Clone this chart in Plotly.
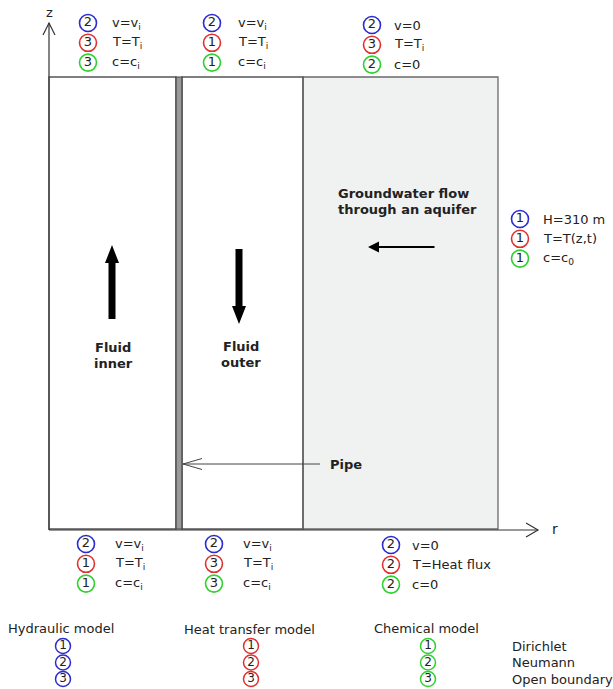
import plotly.graph_objects as go

# ---- boundary conditions (code, label) for each boundary of the model ----
sites = ["inner top", "outer top", "aquifer top", "aquifer side",
         "inner bottom", "outer bottom", "aquifer bottom"]
hydraulic_codes = [2, 2, 2, 1, 2, 2, 2]
hydraulic_labels = ["v=v<sub>i</sub>", "v=v<sub>i</sub>", "v=0", "H=310 m",
                    "v=v<sub>i</sub>", "v=v<sub>i</sub>", "v=0"]
heat_codes = [3, 1, 3, 1, 1, 3, 2]
heat_labels = ["T=T<sub>i</sub>", "T=T<sub>i</sub>", "T=T<sub>i</sub>", "T=T(z,t)",
               "T=T<sub>i</sub>", "T=T<sub>i</sub>", "T=Heat flux"]
chem_codes = [3, 1, 2, 1, 1, 3, 2]
chem_labels = ["c=c<sub>i</sub>", "c=c<sub>i</sub>", "c=0", "c=c<sub>0</sub>",
               "c=c<sub>i</sub>", "c=c<sub>i</sub>", "c=0"]

models = ["Hydraulic model", "Heat transfer model", "Chemical model"]
model_codes = [1, 2, 3]
condition_types = ["Dirichlet", "Neumann", "Open boundary"]

# ---- layout (pixel-like canvas coordinates) ----
W, H = 613, 689
FONT = "DejaVu Sans"
TXT = "#222222"
COLORS = ["#2b2bd0", "#e03030", "#30d030"]  # hydraulic, heat, chemical

# circle x, first row y, label x for each site
site_pos = {
    "inner top": (88, 23, 110),
    "outer top": (212, 23, 236),
    "aquifer top": (372, 25, 392),
    "aquifer side": (520, 219, 541),
    "inner bottom": (86, 544, 113),
    "outer bottom": (214, 544, 241),
    "aquifer bottom": (391, 545, 410),
}
ROW = 19.8

X0, XPIPE0, XPIPE1, XOUT, XAQ = 49, 176, 182, 303, 498
YTOP, YBOT = 77, 529

fig = go.Figure()

shapes = []
# domain rectangles
shapes.append(dict(type="rect", x0=XOUT, x1=XAQ, y0=YTOP, y1=YBOT,
                   fillcolor="#f0f1f1", line=dict(color="#6a6a6a", width=1.3), layer="below"))
shapes.append(dict(type="rect", x0=X0, x1=XPIPE0, y0=YTOP, y1=YBOT,
                   line=dict(color="#555555", width=1.3)))
shapes.append(dict(type="rect", x0=XPIPE1, x1=XOUT, y0=YTOP, y1=YBOT,
                   line=dict(color="#555555", width=1.3)))
shapes.append(dict(type="rect", x0=XPIPE0, x1=XPIPE1, y0=YTOP, y1=YBOT,
                   fillcolor="#9a9a9a", line=dict(color="#444444", width=1.2)))

# coordinate axes with open arrowheads
AX = "#333333"
shapes.append(dict(type="line", x0=X0, x1=X0, y0=YBOT + 1, y1=23, line=dict(color=AX, width=1.2)))
shapes.append(dict(type="path", path=f"M {X0-6} 35 L {X0} 23 L {X0+6} 35",
                   line=dict(color=AX, width=1.2)))
shapes.append(dict(type="line", x0=X0, x1=538, y0=YBOT + 1, y1=YBOT + 1, line=dict(color=AX, width=1.2)))
shapes.append(dict(type="path", path=f"M 526 {YBOT-6} L 538 {YBOT+1} L 526 {YBOT+8}",
                   line=dict(color=AX, width=1.2)))


def block_arrow(xc, y_tail, y_tip, shaft=7, head=14, head_len=18):
    d = 1 if y_tip > y_tail else -1
    yb = y_tip - d * head_len
    return (f"M {xc-shaft/2} {y_tail} L {xc-shaft/2} {yb} L {xc-head/2} {yb} "
            f"L {xc} {y_tip} L {xc+head/2} {yb} L {xc+shaft/2} {yb} L {xc+shaft/2} {y_tail} Z")


shapes.append(dict(type="path", path=block_arrow(112, 319, 245), fillcolor="black", line=dict(width=0)))
shapes.append(dict(type="path", path=block_arrow(239, 249, 324), fillcolor="black", line=dict(width=0)))

# pipe pointer
shapes.append(dict(type="line", x0=183, x1=320, y0=464, y1=464, line=dict(color="#444444", width=1)))
shapes.append(dict(type="path", path="M 202 458.5 L 183 464 L 202 469.5",
                   line=dict(color="#444444", width=1)))

annotations = []


def text(x, y, s, size=13, bold=False, xanchor="left", color=TXT):
    annotations.append(dict(x=x, y=y, text=f"<b>{s}</b>" if bold else s, showarrow=False,
                            xanchor=xanchor, yanchor="middle",
                            font=dict(family=FONT, size=size, color=color)))


text(49, 12, "z", size=13, xanchor="center")
text(555, 529, "r", size=14, xanchor="center")

text(113, 347, "Fluid", bold=True, xanchor="center")
text(113, 363, "inner", bold=True, xanchor="center")
text(241, 346, "Fluid", bold=True, xanchor="center")
text(241, 362, "outer", bold=True, xanchor="center")
text(336, 193, "Groundwater flow", bold=True)
text(336, 209, "through an aquifer", bold=True)
text(328, 464, "Pipe", bold=True)

# groundwater flow direction
annotations.append(dict(x=368, y=247, ax=436, ay=247, axref="x", ayref="y", xref="x", yref="y",
                        text="", showarrow=True, arrowhead=2, arrowsize=1.1, arrowwidth=2,
                        arrowcolor="black"))

# boundary condition markers
cx, cy, ct, cc = [], [], [], []
for i, site in enumerate(sites):
    x, y, lx = site_pos[site]
    rows = [(hydraulic_codes[i], hydraulic_labels[i], COLORS[0]),
            (heat_codes[i], heat_labels[i], COLORS[1]),
            (chem_codes[i], chem_labels[i], COLORS[2])]
    for k, (code, label, col) in enumerate(rows):
        yy = y + k * ROW
        cx.append(x)
        cy.append(yy)
        ct.append(str(code))
        cc.append(col)
        text(lx, yy, label)

fig.add_trace(go.Scatter(
    x=cx, y=cy, text=ct, mode="markers+text", textposition="middle center",
    marker=dict(size=17, color="rgba(255,255,255,0)", line=dict(color=cc, width=1.6)),
    textfont=dict(family=FONT, size=13, color=TXT), hoverinfo="skip", showlegend=False))

# key of boundary condition types
key_x = [63, 251, 428]
key_head_y = [628, 629, 628]
key_y = [646, 662.5, 679]
kx, ky, kt, kc = [], [], [], []
for m, name in enumerate(models):
    text(key_x[m] - 2, key_head_y[m], name, xanchor="center")
    for j, code in enumerate(model_codes):
        kx.append(key_x[m])
        ky.append(key_y[j])
        kt.append(str(code))
        kc.append(COLORS[m])
for j, name in enumerate(condition_types):
    text(510, key_y[j], name)

fig.add_trace(go.Scatter(
    x=kx, y=ky, text=kt, mode="markers+text", textposition="middle center",
    marker=dict(size=15, color="rgba(255,255,255,0)", line=dict(color=kc, width=1.5)),
    textfont=dict(family=FONT, size=12, color=TXT), hoverinfo="skip", showlegend=False))

fig.update_layout(
    width=W, height=H, margin=dict(l=0, r=0, t=0, b=0),
    paper_bgcolor="white", plot_bgcolor="white",
    xaxis=dict(range=[0, W], visible=False, fixedrange=True),
    yaxis=dict(range=[H, 0], visible=False, fixedrange=True),
    shapes=shapes, annotations=annotations, showlegend=False,
)

fig.write_html("out.html")
